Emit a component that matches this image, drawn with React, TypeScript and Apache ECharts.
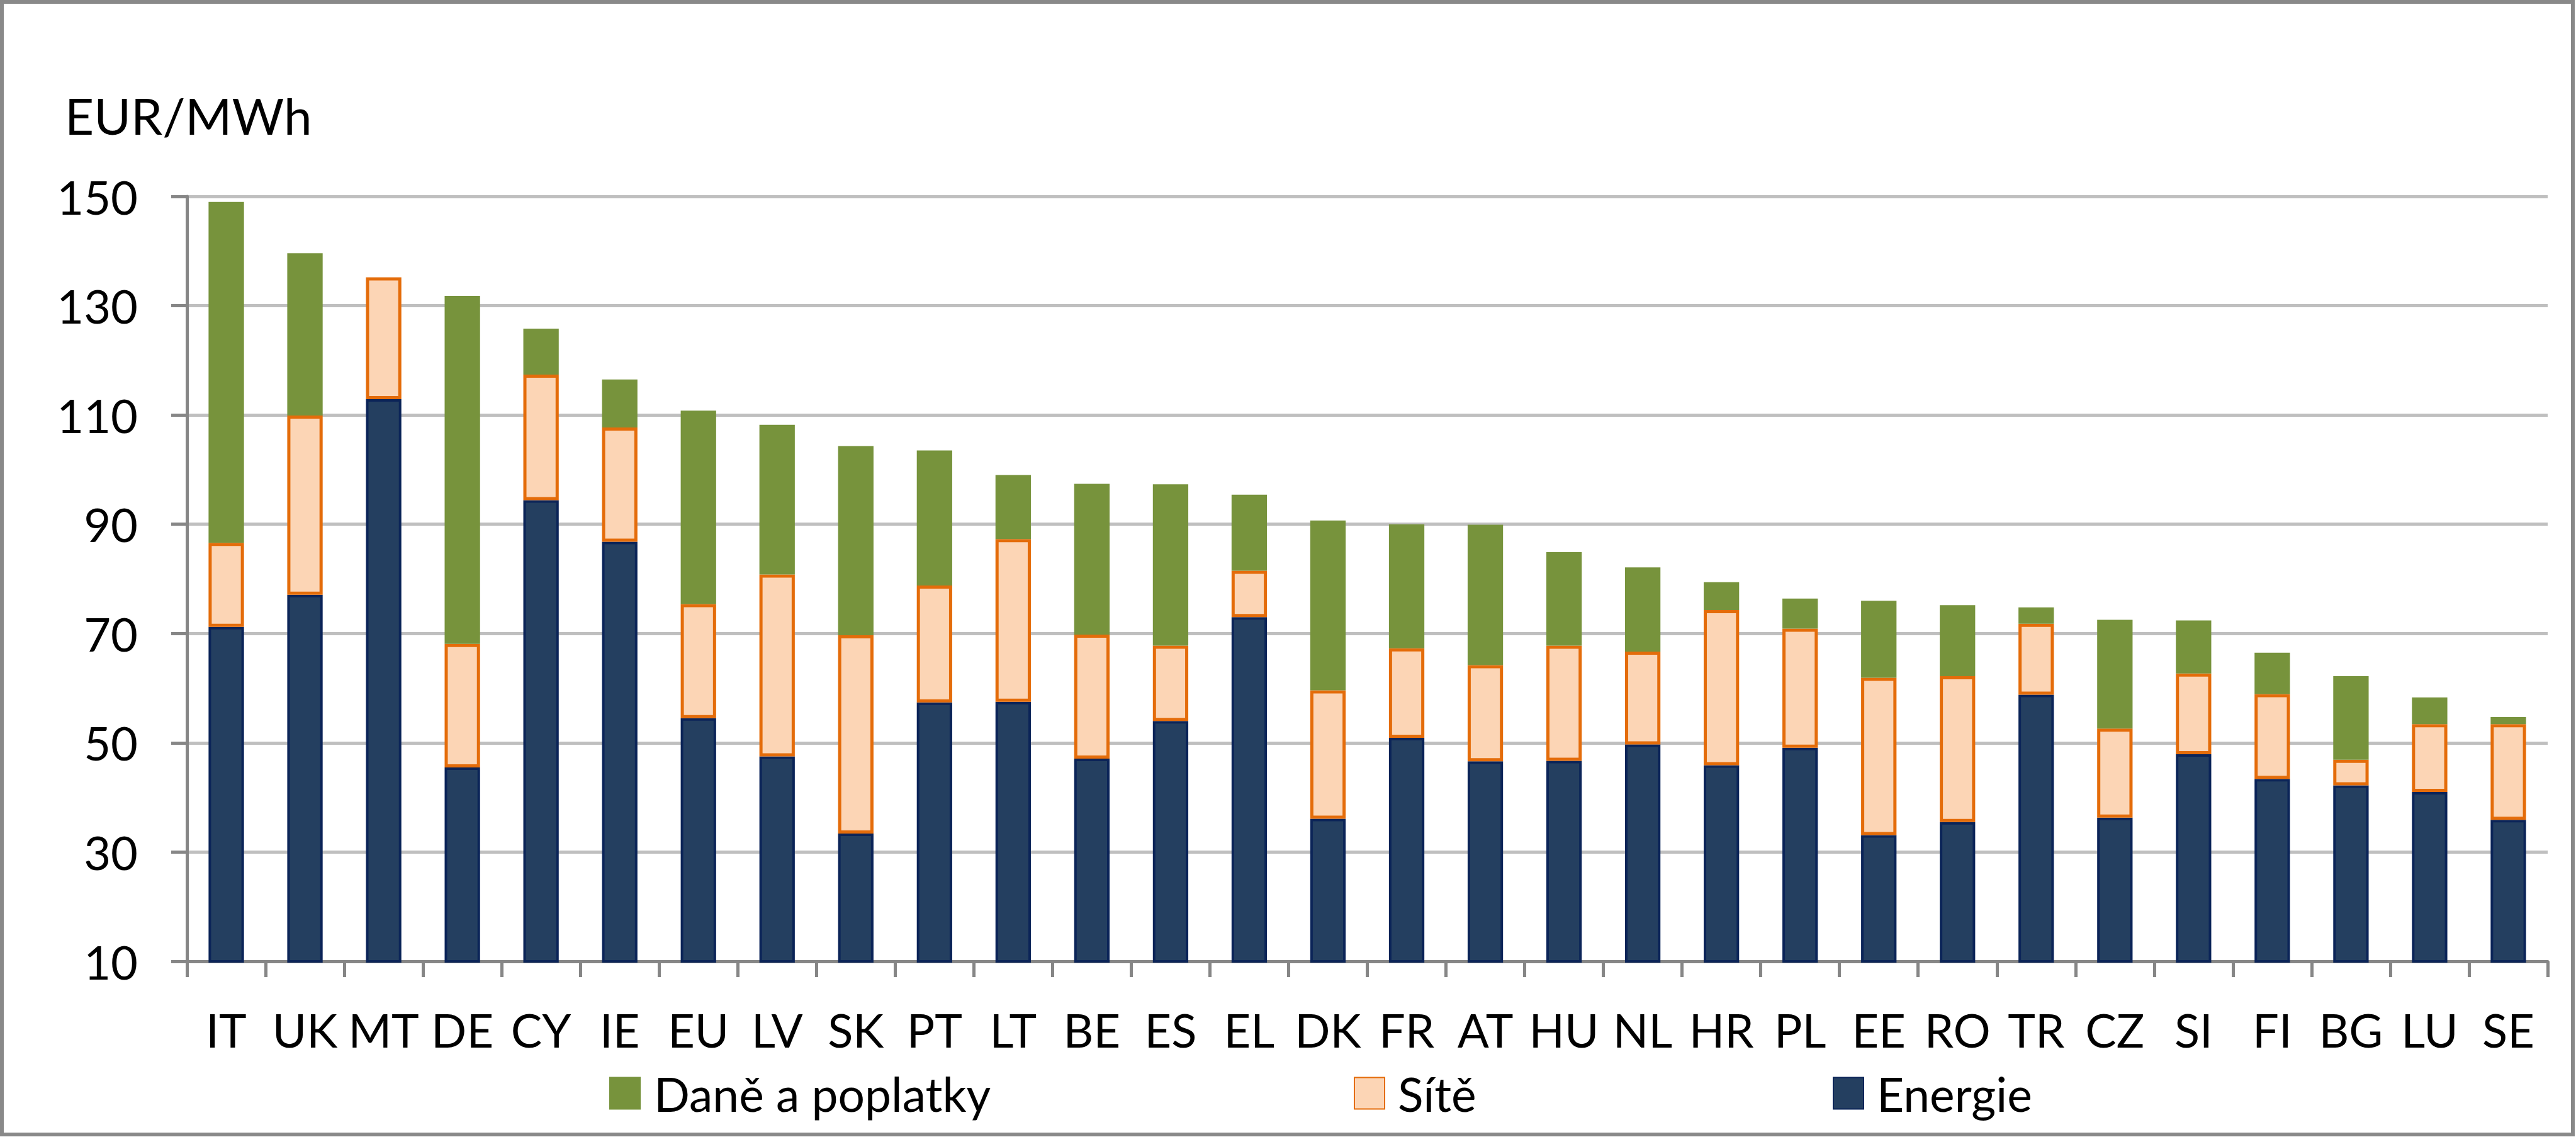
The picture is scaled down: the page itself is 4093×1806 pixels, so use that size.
import React, { useEffect, useRef } from "react";
import * as echarts from "echarts";

const categories = ["IT","UK","MT","DE","CY","IE","EU","LV","SK","PT","LT","BE","ES","EL","DK","FR","AT","HU","NL","HR","PL","EE","RO","TR","CZ","SI","FI","BG","LU","SE"];
const energie = [71.2,77.1,112.9,45.5,94.4,86.8,54.5,47.5,33.4,57.4,57.5,47.1,54.0,73.0,36.1,50.9,46.6,46.7,49.7,45.9,49.1,33.1,35.5,58.8,36.3,47.9,43.4,42.2,41.0,35.9];
const site = [15.4,32.8,22.3,22.6,23.0,20.9,20.9,33.3,36.3,21.4,29.8,22.7,13.8,8.5,23.5,16.4,17.6,21.1,17.0,28.4,21.8,28.8,26.7,13.0,16.3,14.8,15.5,4.7,12.4,17.5];
const dane = [62.4,29.7,0,63.7,8.4,8.8,35.4,27.4,34.6,24.7,11.7,27.6,29.5,13.9,31.1,22.7,25.7,17.1,15.4,5.1,5.5,14.1,13.0,3.0,19.9,9.7,7.6,15.3,4.9,1.3];
const yTicks = { min: 10, max: 150, interval: 20 };
const unitLabel = "EUR/MWh";
const seriesNames = { dane: "Daně a poplatky", site: "Sítě", energie: "Energie" };

const FONT = "Lato, 'Open Sans', sans-serif";
const GREEN = "#77933C";
const PEACH = "#FCD5B5";
const ORANGE = "#E46C0A";
const NAVY = "#243F60";
const NAVY_BORDER = "#0B2458";
const AXIS = "#868686";
const GRID = "#BFBFBF";

export default function App() {
  const ref = useRef<HTMLDivElement>(null);
  useEffect(() => {
    if (!ref.current) return;
    const chart = echarts.init(ref.current, undefined, { renderer: "svg" });
    const legendText = { fontFamily: FONT, fontSize: 75, color: "#000", padding: [0, 0, 0, 16] };
    chart.setOption({
      animation: false,
      backgroundColor: "#ffffff",
      textStyle: { fontFamily: FONT },
      grid: { left: 297, right: 45, top: 312, bottom: 279, containLabel: false },
      graphic: [
        {
          type: "rect",
          shape: { x: 3, y: 3, width: 4085, height: 1799 },
          style: { fill: "none", stroke: "#898989", lineWidth: 6 },
          silent: true,
        },
        {
          type: "text",
          left: 103,
          top: 143,
          style: { text: unitLabel, fontFamily: FONT, fontSize: 80, fill: "#000" },
        },
      ],
      legend: [
        {
          left: 963, top: 1694, itemWidth: 50, itemHeight: 52, icon: "rect",
          data: [seriesNames.dane], textStyle: legendText,
        },
        {
          left: 2146, top: 1694, itemWidth: 48, itemHeight: 50, icon: "rect",
          data: [seriesNames.site], textStyle: legendText,
        },
        {
          left: 2907, top: 1694, itemWidth: 48, itemHeight: 50, icon: "rect",
          data: [seriesNames.energie], textStyle: legendText,
        },
      ],
      xAxis: {
        type: "category",
        data: categories,
        boundaryGap: true,
        axisLine: { show: true, lineStyle: { color: AXIS, width: 5 } },
        axisTick: { show: true, length: 25, lineStyle: { color: AXIS, width: 5 } },
        axisLabel: { fontFamily: FONT, fontSize: 74, color: "#000", margin: 71, interval: 0 },
      },
      yAxis: {
        type: "value",
        min: yTicks.min,
        max: yTicks.max,
        interval: yTicks.interval,
        axisLine: { show: true, lineStyle: { color: AXIS, width: 5 } },
        axisTick: { show: true, length: 25, lineStyle: { color: AXIS, width: 5 } },
        axisLabel: { fontFamily: FONT, fontSize: 74, color: "#000", margin: 78 },
        splitLine: { show: true, lineStyle: { color: GRID, width: 5 } },
      },
      series: [
        {
          name: seriesNames.energie,
          type: "bar",
          stack: "total",
          barWidth: "45%",
          data: energie,
          itemStyle: { color: NAVY, borderColor: NAVY_BORDER, borderWidth: 4 },
        },
        {
          name: seriesNames.site,
          type: "bar",
          stack: "total",
          barWidth: "45%",
          data: site,
          itemStyle: { color: PEACH, borderColor: ORANGE, borderWidth: 5 },
        },
        {
          name: seriesNames.dane,
          type: "bar",
          stack: "total",
          barWidth: "45%",
          data: dane,
          itemStyle: { color: GREEN },
        },
      ],
    });
    return () => chart.dispose();
  }, []);
  return (
    <div
      ref={ref}
      style={{ position: "absolute", left: 0, top: 0, width: 4093, height: 1806, background: "#fff" }}
    />
  );
}
